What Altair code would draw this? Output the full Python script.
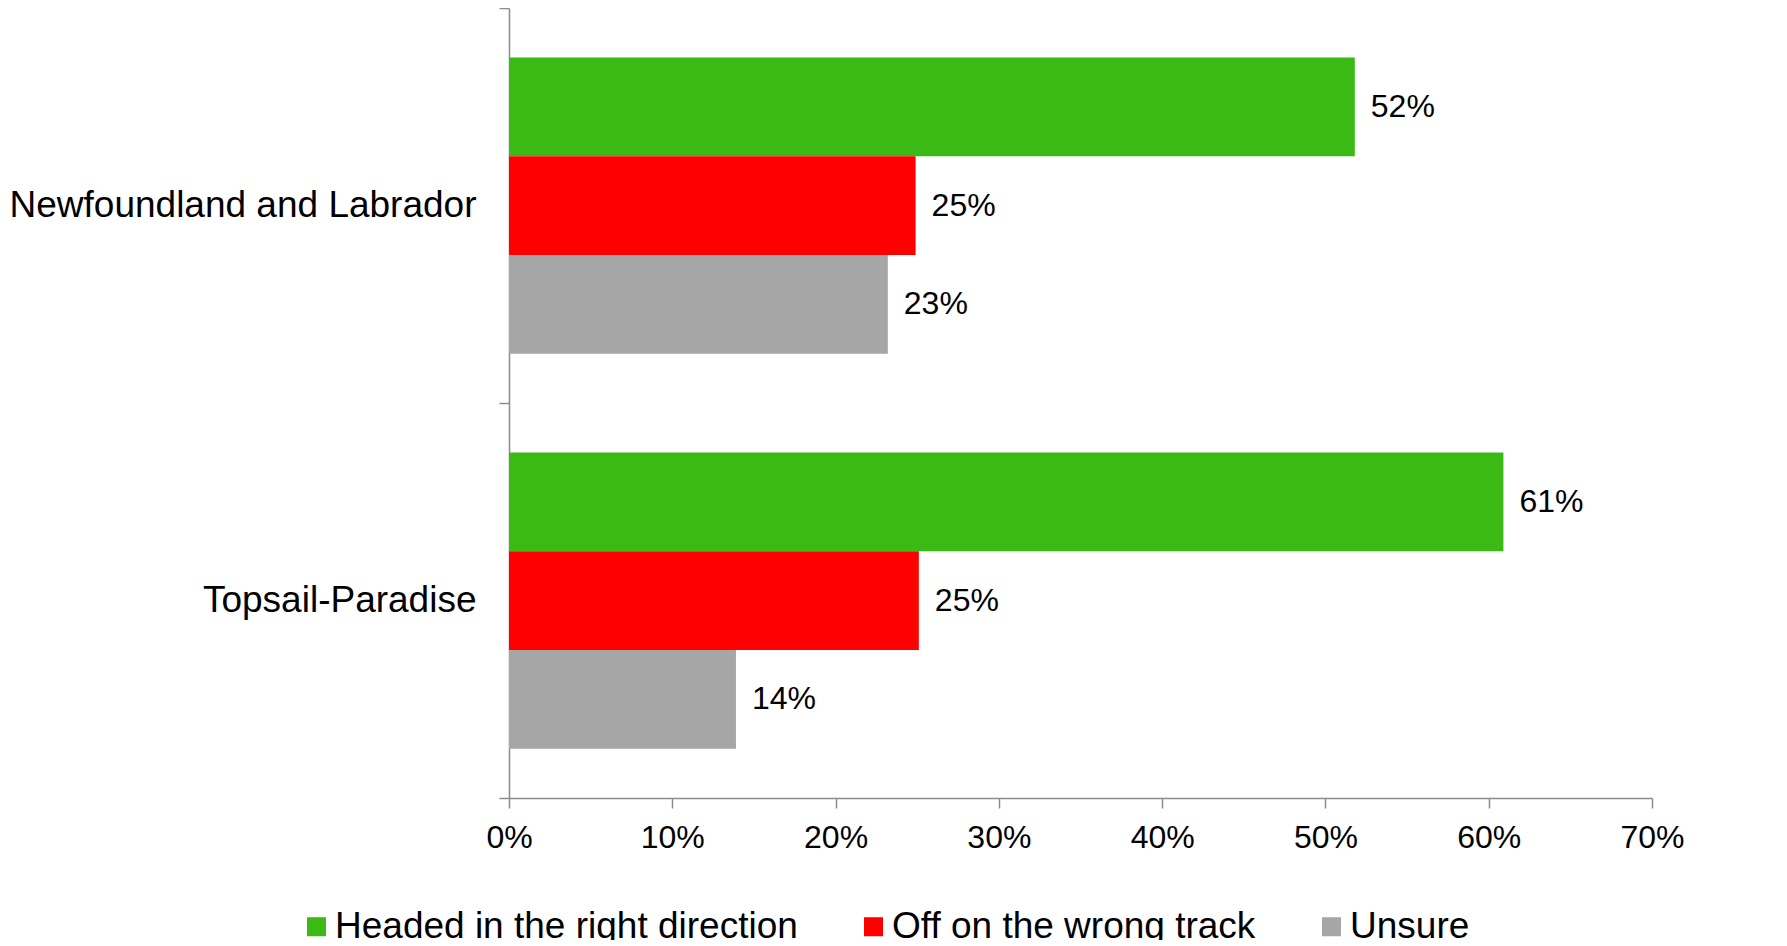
import altair as alt
import pandas as pd

regions = ["Newfoundland and Labrador", "Topsail-Paradise"]
series = ["Headed in the right direction", "Off on the wrong track", "Unsure"]
colors = ["#3BB914", "#FF0000", "#A6A6A6"]
nl_values = [0.518, 0.249, 0.232]
tp_values = [0.609, 0.251, 0.139]
x_ticks = [0, 0.1, 0.2, 0.3, 0.4, 0.5, 0.6, 0.7]

rows = []
for region, vals in zip(regions, [nl_values, tp_values]):
    for s, v in zip(series, vals):
        rows.append({"region": region, "series": s, "value": v})
df = pd.DataFrame(rows)

FONT = "Liberation Sans"
AXIS_GRAY = "#8C8C8C"

base = alt.Chart(df).encode(
    y=alt.Y(
        "region:N",
        sort=regions,
        title=None,
        scale=alt.Scale(paddingInner=0, paddingOuter=0),
        axis=alt.Axis(
            domainColor=AXIS_GRAY,
            domainWidth=1.5,
            tickColor=AXIS_GRAY,
            tickWidth=1.5,
            tickSize=10,
            tickBand="extent",
            labelFontSize=37,
            labelFont=FONT,
            labelColor="#000000",
            labelPadding=23,
            labelLimit=0,
        ),
    ),
    yOffset=alt.YOffset(
        "series:N", sort=series, scale=alt.Scale(paddingInner=0, paddingOuter=0.5)
    ),
    x=alt.X(
        "value:Q",
        title=None,
        scale=alt.Scale(domain=[0, 0.7], nice=False),
        axis=alt.Axis(
            values=x_ticks,
            format=".0%",
            grid=False,
            domainColor=AXIS_GRAY,
            domainWidth=1.5,
            tickColor=AXIS_GRAY,
            tickWidth=1.5,
            tickSize=10,
            labelFontSize=32,
            labelFont=FONT,
            labelColor="#000000",
            labelPadding=14,
            labelFlush=False,
        ),
    ),
)

bars = base.mark_bar().encode(
    color=alt.Color(
        "series:N",
        sort=series,
        scale=alt.Scale(domain=series, range=colors),
        legend=alt.Legend(
            title=None,
            orient="none",
            direction="horizontal",
            legendX=-211,
            legendY=900,
            symbolType="square",
            symbolSize=361,
            symbolStrokeWidth=0,
            symbolOpacity=1,
            labelFontSize=37,
            labelFont=FONT,
            labelColor="#000000",
            labelOffset=0,
            columnPadding=57,
            labelLimit=0,
            padding=0,
        ),
    )
)

labels = base.mark_text(
    align="left", baseline="middle", dx=16, fontSize=32, font=FONT, color="#000000"
).encode(text=alt.Text("value:Q", format=".0%"))

chart = (
    alt.layer(bars, labels)
    .properties(
        width=1143,
        height=790,
        autosize=alt.AutoSizeParams(type="none"),
        padding={"left": 501, "top": 0, "right": 60, "bottom": 142},
        background="#FFFFFF",
    )
    .configure_view(stroke=None)
)

chart.save("out.html", embed_options={"renderer": "svg", "actions": False})
